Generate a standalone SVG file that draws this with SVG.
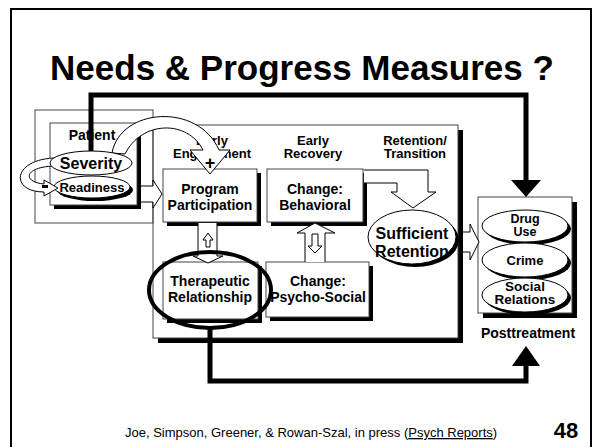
<svg xmlns="http://www.w3.org/2000/svg" width="600" height="447" viewBox="0 0 600 447">
<defs>
<style>
.t{font-family:"Liberation Sans",Arial,sans-serif;font-weight:bold;fill:#000;text-anchor:middle}
.box{fill:#fff;stroke:#444;stroke-width:1}
.sh{fill:#000}
.ha{fill:#fff;stroke:#000;stroke-width:1;stroke-linejoin:miter}
.thick{fill:none;stroke:#000;stroke-width:5;stroke-linejoin:miter}
.el{fill:#fff;stroke:#000;stroke-width:1}
</style>
</defs>
<rect x="0" y="0" width="600" height="447" fill="#fff"/>
<rect x="11" y="9" width="580" height="450" fill="none" stroke="#000" stroke-width="2"/>
<text class="t" x="302" y="80" font-size="35">Needs &amp; Progress Measures ?</text>

<g id="main-stage">
<rect class="sh" x="158" y="130" width="305" height="213"/>
<rect class="box" x="153" y="125" width="305" height="213"/>
<text class="t" x="212" y="145" font-size="13">Early</text>
<text class="t" x="212" y="158" font-size="13">Engagement</text>
<text class="t" x="313" y="145" font-size="13">Early</text>
<text class="t" x="313" y="158" font-size="13">Recovery</text>
<text class="t" x="415" y="145" font-size="13">Retention/</text>
<text class="t" x="415" y="158" font-size="13">Transition</text>
</g>

<g id="patient">
<rect x="35" y="110" width="118" height="113" fill="none" stroke="#444" stroke-width="1"/>
<rect class="sh" x="54" y="127" width="87" height="82"/>
<rect class="box" x="50" y="123" width="87" height="82"/>
<text class="t" x="92" y="140" font-size="14">Patient</text>
</g>

<g id="program-participation">
<rect class="sh" x="167" y="173" width="94" height="53"/>
<rect class="box" x="163" y="169" width="94" height="53"/>
<text class="t" x="210" y="194" font-size="14">Program</text>
<text class="t" x="210" y="210" font-size="14">Participation</text>
</g>

<g id="change-behavioral">
<rect class="sh" x="271" y="173" width="96" height="53"/>
<rect class="box" x="267" y="169" width="96" height="53"/>
<text class="t" x="315" y="194" font-size="14">Change:</text>
<text class="t" x="315" y="210" font-size="14">Behavioral</text>
</g>

<g id="therapeutic-relationship">
<rect class="sh" x="167" y="266" width="95" height="57"/>
<rect class="box" x="163" y="262" width="95" height="57"/>
<text class="t" x="210" y="286" font-size="14">Therapeutic</text>
<text class="t" x="210" y="302" font-size="14">Relationship</text>
</g>

<g id="change-psychosocial">
<rect class="sh" x="270" y="266" width="103" height="55"/>
<rect class="box" x="266" y="262" width="103" height="55"/>
<text class="t" x="318" y="286" font-size="14">Change:</text>
<text class="t" x="318" y="302" font-size="14">Psycho-Social</text>
</g>

<g id="posttreatment">
<rect class="sh" x="483" y="202" width="94" height="116"/>
<rect class="box" x="478" y="197" width="94" height="116"/>
<text class="t" x="528" y="338" font-size="14">Posttreatment</text>
</g>

<g id="connectors">
<path class="ha" d="M141 186 L153 186 L153 180 L162 194 L153 208 L153 202 L141 202"/>
<path class="ha" d="M198 223 L198 256 L193 256 L208 263 L223 256 L217 256 L217 223"/>
<path class="ha" d="M206 247 L206 240 L203 240 L208 233 L213 240 L210 240 L210 247 Z"/>
<path class="ha" d="M305 262 L305 233 L297 233 L315 223 L335 233 L325 233 L325 262"/>
<path class="ha" d="M312 234 L312 246 L308 246 L315 253 L322 246 L318 246 L318 234 Z"/>
<path class="ha" d="M364 170 L428 170 L428 192 L436 192 L413 208 L391 192 L397 192 L397 183 L364 183"/>
<path class="ha" d="M463 232 L470 232 L470 224 L479 242 L470 260 L470 252 L463 252"/>
<polyline class="thick" points="210,328 210,381 526,381 526,364"/>
<polygon points="512,366 540,366 526,346" fill="#000"/>
</g>

<g id="sufficient-retention">
<ellipse class="sh" cx="415" cy="240" rx="44" ry="27"/>
<ellipse class="el" cx="412" cy="237" rx="44" ry="27"/>
<text class="t" x="412" y="239" font-size="16">Sufficient</text>
<text class="t" x="412" y="257" font-size="16">Retention</text>
</g>

<g id="drug-use">
<ellipse class="sh" cx="528" cy="229" rx="43" ry="16"/>
<ellipse class="el" cx="525" cy="226" rx="43" ry="16"/>
<text class="t" x="525" y="223" font-size="12.5">Drug</text>
<text class="t" x="525" y="236" font-size="12.5">Use</text>
</g>
<g id="crime">
<ellipse class="sh" cx="528" cy="263" rx="43" ry="17"/>
<ellipse class="el" cx="525" cy="260" rx="43" ry="17"/>
<text class="t" x="525" y="265" font-size="13">Crime</text>
</g>
<g id="social-relations">
<ellipse class="sh" cx="528" cy="298" rx="43" ry="17"/>
<ellipse class="el" cx="525" cy="295" rx="43" ry="17"/>
<text class="t" x="525" y="291" font-size="13.5">Social</text>
<text class="t" x="525" y="304" font-size="13.5">Relations</text>
</g>

<g id="readiness">
<ellipse class="sh" cx="95" cy="190" rx="38" ry="11"/>
<ellipse class="el" cx="92" cy="187" rx="38" ry="11"/>
<text class="t" x="92" y="192" font-size="13">Readiness</text>
</g>

<g id="loop-arrow">
<path class="ha" d="M54 158 C12 160 10 192 44 192 L44 196 L58 188 L44 180 L44 184 C22 182 24 167 54 166 Z"/>
<rect x="42" y="185" width="6" height="3" fill="#000"/>
</g>

<g id="arch-arrow">
<path class="ha" d="M112 153 C120 108 198 102 219 150 L230 150 L210 174 L190 150 L203 150 C188 120 142 120 125 154 Z"/>
<text class="t" x="210" y="169" font-size="18">+</text>
</g>

<g id="severity">
<ellipse class="el" cx="91" cy="163" rx="41" ry="12"/>
<text class="t" x="91" y="169" font-size="16">Severity</text>
</g>

<g id="thick-connectors">
<polyline class="thick" points="91,151 91,95 526,95 526,182"/>
<polygon points="511,180 541,180 526,197" fill="#000"/>
<ellipse cx="210" cy="290" rx="61" ry="38" fill="none" stroke="#000" stroke-width="4"/>
</g>

<g id="footer">
<text x="125" y="437" font-family="Liberation Sans,Arial,sans-serif" font-size="13">Joe, Simpson, Greener, &amp; Rowan-Szal, in press (<tspan text-decoration="underline">Psych Reports</tspan>)</text>
<text class="t" x="566" y="438" font-size="22">48</text>
</g>
</svg>
